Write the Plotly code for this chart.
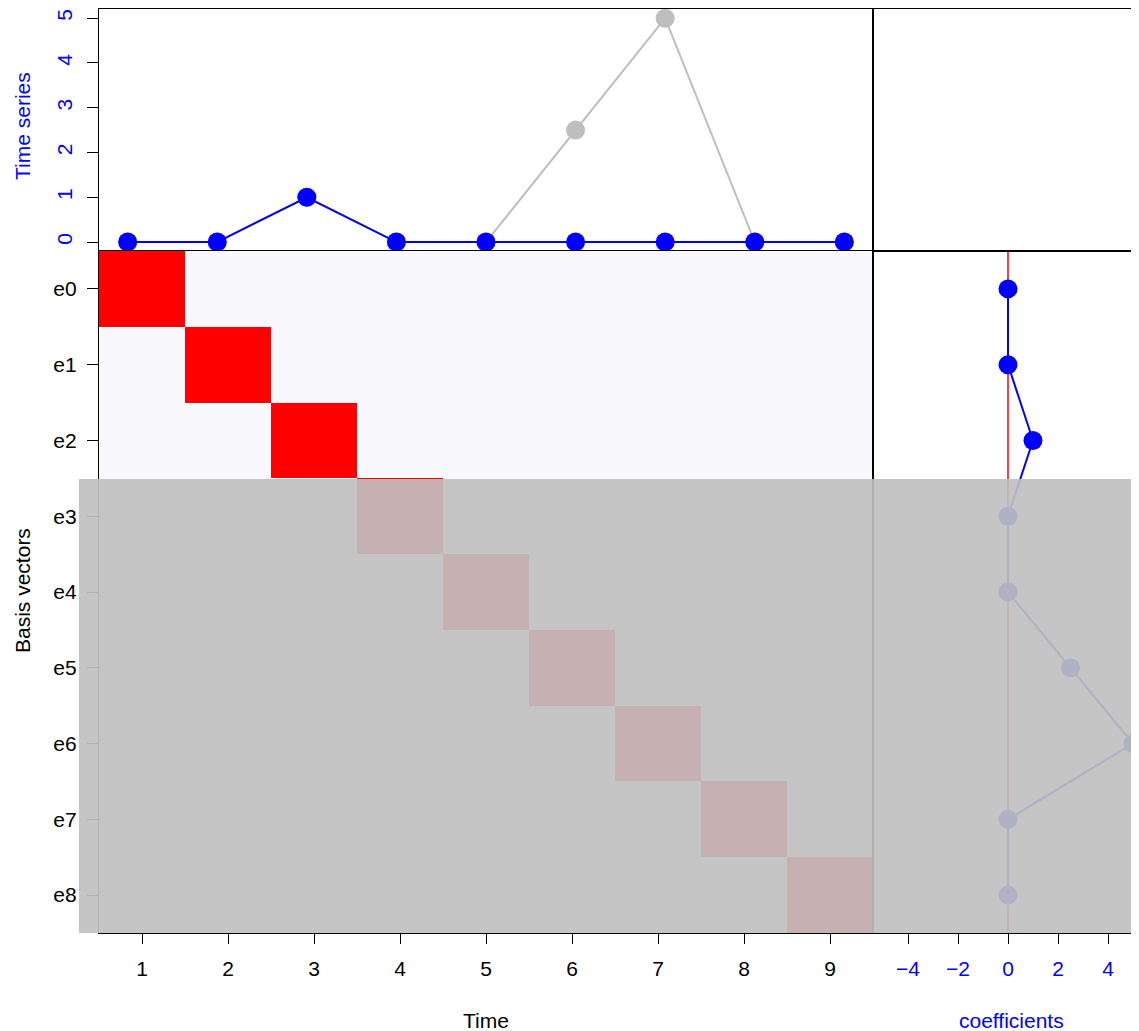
import plotly.graph_objects as go

# page offset (browser body margin) compensation
OFF = 7
WIN_W, WIN_H = 1139, 1031
W, H = WIN_W - OFF, WIN_H - OFF

# ---- data ----
time_idx = [1, 2, 3, 4, 5, 6, 7, 8, 9]
full_series = [0, 0, 1, 0, 0, 2.5, 5, 0, 0]          # grey (full signal)
shown_series = [0, 0, 1, 0, 0, 0, 0, 0, 0]           # blue (reconstructed part)
basis_labels = ["e0", "e1", "e2", "e3", "e4", "e5", "e6", "e7", "e8"]
basis_rows = [0, 1, 2, 3, 4, 5, 6, 7, 8]
coefficients = [0, 0, 1, 0, 0, 2.5, 5, 0, 0]
basis_matrix = [
    [1, 0, 0, 0, 0, 0, 0, 0, 0],
    [0, 1, 0, 0, 0, 0, 0, 0, 0],
    [0, 0, 1, 0, 0, 0, 0, 0, 0],
    [0, 0, 0, 1, 0, 0, 0, 0, 0],
    [0, 0, 0, 0, 1, 0, 0, 0, 0],
    [0, 0, 0, 0, 0, 1, 0, 0, 0],
    [0, 0, 0, 0, 0, 0, 1, 0, 0],
    [0, 0, 0, 0, 0, 0, 0, 1, 0],
    [0, 0, 0, 0, 0, 0, 0, 0, 1],
]
ts_ticks = [0, 1, 2, 3, 4, 5]
coef_ticks = [-4, -2, 0, 2, 4]

# ---- layout geometry (window pixels -> paper) ----
def px(x):
    return min(max((x - OFF) / W, 0.0), 1.0)

def py(y):
    return min(max(1 - (y - OFF) / H, 0.0), 1.0)

XL = [px(98), px(872)]
XR = [px(872), 1.0]
YT = [py(250), py(8.2)]
YB = [py(932), py(250)]

FONT = "Liberation Sans, Arial, sans-serif"
FS = 21
BLUE = "#0000FF"
GREY = "#BEBEBE"
MS = 19

fig = go.Figure()

# top-left: time series
fig.add_trace(go.Scatter(x=time_idx, y=full_series, mode="lines+markers",
                         line=dict(color=GREY, width=2),
                         marker=dict(color=GREY, size=MS),
                         xaxis="x", yaxis="y", showlegend=False, cliponaxis=False))
fig.add_trace(go.Scatter(x=time_idx, y=shown_series, mode="lines+markers",
                         line=dict(color=BLUE, width=2),
                         marker=dict(color=BLUE, size=MS),
                         xaxis="x", yaxis="y", showlegend=False, cliponaxis=False))

# bottom-left: basis heatmap
fig.add_trace(go.Heatmap(x=time_idx, y=basis_rows, z=basis_matrix,
                         colorscale=[[0, "#F8F8FD"], [1, "#FF0000"]],
                         showscale=False, xaxis="x3", yaxis="y3",
                         hoverinfo="skip"))

# bottom-right: coefficients
fig.add_trace(go.Scatter(x=coefficients, y=basis_rows, mode="lines+markers",
                         line=dict(color=BLUE, width=2),
                         marker=dict(color=BLUE, size=MS),
                         xaxis="x4", yaxis="y4", showlegend=False))

# empty top-right panel
fig.add_trace(go.Scatter(x=[None], y=[None], xaxis="x2", yaxis="y2",
                         showlegend=False))

axline = dict(showline=True, linecolor="black", linewidth=1.3, mirror=True,
              showgrid=False, zeroline=False)

fig.update_layout(
    width=W, height=H, margin=dict(l=0, r=0, t=0, b=0),
    paper_bgcolor="white", plot_bgcolor="white",
    font=dict(family=FONT, size=FS, color="black"),
    xaxis=dict(domain=XL, range=[0.68, 9.32], anchor="y",
               showticklabels=False, ticks="", **axline),
    yaxis=dict(domain=YT, range=[-0.2, 5.2], anchor="x",
               tickvals=ts_ticks, ticks="outside", ticklen=11,
               tickcolor="black", tickwidth=1.2, tickangle=-90,
               tickfont=dict(color=BLUE, size=FS), ticklabelstandoff=6,
               **axline),
    xaxis2=dict(domain=XR, range=[-5.4, 5.28], anchor="y2",
                showticklabels=False, ticks="", **axline),
    yaxis2=dict(domain=YT, range=[0, 1], anchor="x2",
                showticklabels=False, ticks="", **axline),
    xaxis3=dict(domain=XL, range=[0.5, 9.5], anchor="y3",
                tickvals=time_idx, ticks="outside", ticklen=10,
                tickcolor="black", tickwidth=1.2,
                tickfont=dict(color="black", size=FS), ticklabelstandoff=7,
                **axline),
    yaxis3=dict(domain=YB, range=[8.5, -0.5], anchor="x3",
                tickvals=basis_rows, ticktext=basis_labels,
                ticks="outside", ticklen=11, tickcolor="black", tickwidth=1.2,
                tickfont=dict(color="black", size=FS), ticklabelstandoff=6,
                **axline),
    xaxis4=dict(domain=XR, range=[-5.4, 5.28], anchor="y4",
                tickvals=coef_ticks, ticks="outside", ticklen=10,
                tickcolor="black", tickwidth=1.2,
                tickfont=dict(color=BLUE, size=FS), ticklabelstandoff=7,
                **axline),
    yaxis4=dict(domain=YB, range=[8.5, -0.5], anchor="x4",
                showticklabels=False, ticks="", **axline),
)

# red zero line in the coefficient panel
fig.add_shape(type="line", xref="x4", yref="y4 domain", x0=0, x1=0, y0=0, y1=1,
              line=dict(color="#FF0000", width=1.5), layer="below")

# grey overlay hiding lower basis vectors
fig.add_shape(type="rect", xref="paper", yref="paper",
              x0=px(78), x1=1.0, y0=py(932), y1=py(478),
              fillcolor="rgba(192,192,192,0.92)", line=dict(width=0),
              layer="above")

# axis titles
fig.add_annotation(text="Time series", xref="paper", yref="paper",
                   x=px(21), y=py(125), textangle=-90, showarrow=False,
                   font=dict(color=BLUE, size=FS), xanchor="center", yanchor="middle")
fig.add_annotation(text="Basis vectors", xref="paper", yref="paper",
                   x=px(21), y=py(590), textangle=-90, showarrow=False,
                   font=dict(color="black", size=FS), xanchor="center", yanchor="middle")
fig.add_annotation(text="Time", xref="paper", yref="paper",
                   x=px(485), y=py(1019), showarrow=False,
                   font=dict(color="black", size=FS), xanchor="center", yanchor="middle")
fig.add_annotation(text="coefficients", xref="paper", yref="paper",
                   x=px(1010), y=py(1019), showarrow=False,
                   font=dict(color=BLUE, size=FS), xanchor="center", yanchor="middle")

fig.write_html("out.html")
